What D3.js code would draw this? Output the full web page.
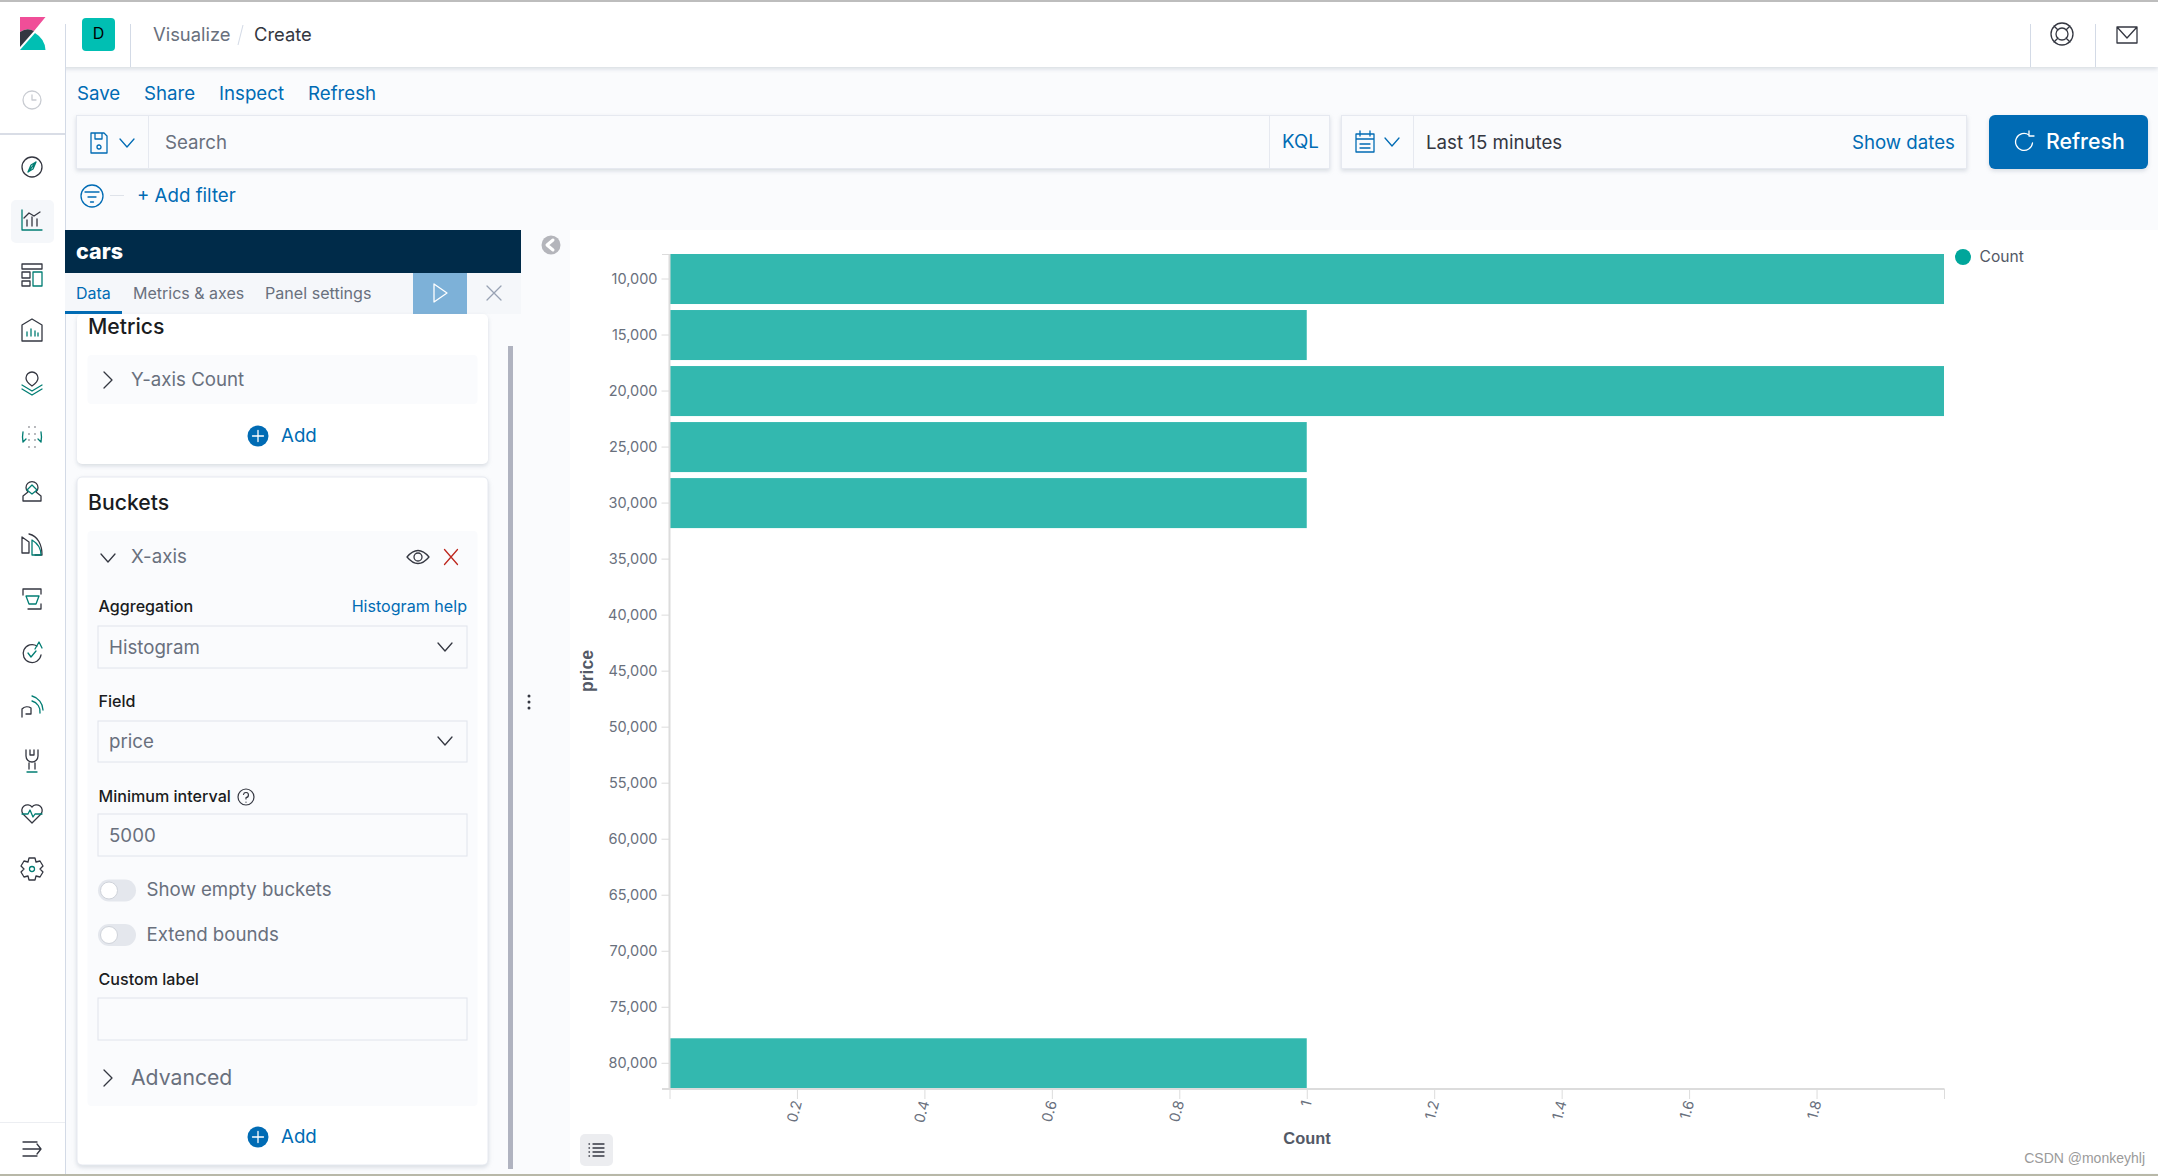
<![CDATA[<html>
<meta charset="utf-8">
<script src="https://d3js.org/d3.v7.min.js"></script>
<style>
body { margin: 0; background: #fff; overflow: hidden; }
svg { display: block; font-family: Inter, sans-serif; }
</style>
<body>
<svg id="page" width="2158" height="1176"></svg>
<script>
// chart data
var prices = [10000, 15000, 20000, 25000, 30000, 35000, 40000, 45000, 50000, 55000, 60000, 65000, 70000, 75000, 80000];
var counts = [2, 1, 2, 1, 1, 0, 0, 0, 0, 0, 0, 0, 0, 0, 1];
var countTicks = [0, 0.2, 0.4, 0.6, 0.8, 1, 1.2, 1.4, 1.6, 1.8, 2];
var countLabels = ["", "0.2", "0.4", "0.6", "0.8", "1", "1.2", "1.4", "1.6", "1.8", ""];
var seriesName = "Count";
var yTitle = "price";

var BLUE = "#006bb4", DARK = "#343741", GREY = "#69707d", LINE = "#d3dae6", PAGE = "#fafbfd", TEAL = "#017d73";
var BODY = 18.7, HEAD = 21.2, SMALL = 16.1;

var svg = d3.select("#page");

var rect = function(x, y, w, h, fill, opt) {
    opt = opt || {};
    return svg.append("rect").attr("x", x).attr("y", y).attr("width", w).attr("height", h)
        .attr("rx", opt.r || 0).attr("fill", fill)
        .attr("stroke", opt.stroke || "none").attr("stroke-width", opt.sw || 1)
        .style("filter", opt.shadow ? "drop-shadow(0 2px 2px rgba(152,162,179,.35))" : null);
};

var text = function(str, x, y, size, fill, weight, anchor) {
    return svg.append("text").attr("x", x).attr("y", y).attr("dy", "0.31em")
        .attr("font-size", size).attr("fill", fill).attr("font-weight", weight || 400)
        .attr("text-anchor", anchor || "start").text(str);
};

// icon: list of [path, colour] drawn around x,y
var icon = function(x, y, parts, sw) {
    var g = svg.append("g").attr("transform", "translate(" + x + "," + y + ")")
        .attr("fill", "none").attr("stroke-width", sw || 1.3).attr("stroke-linecap", "round").attr("stroke-linejoin", "round");
    parts.forEach(function(p) {
        g.append("path").attr("d", p[0]).attr("stroke", p[1]);
    });
    return g;
};

var chevDown = function(x, y, c) { icon(x, y, [["M-7,-4L0,4L7,-4", c || DARK]]); };
var chevRight = function(x, y) { icon(x, y, [["M-4,-8L4,0L-4,8", DARK]]); };

// page backgrounds
rect(0, 0, 2158, 1176, PAGE);
rect(0, 0, 2158, 67, "#fff", {shadow: true});
rect(0, 0, 2158, 2, "#bdbdbd");
rect(0, 67, 65, 1109, "#fff");
rect(65, 67, 1, 1109, LINE);
rect(570, 230, 1588, 943, "#fff");
rect(0, 1174, 2158, 2, "#b8b8a8");

// header
svg.append("path").attr("d", "M20,17H45.5L34,31Q27,27 20,32Z").attr("fill", "#f04e98");
svg.append("path").attr("d", "M20,32Q27,27 34,31L20,47Z").attr("fill", "#343741");
svg.append("path").attr("d", "M20,50L35,33Q45,39 45.5,50Z").attr("fill", "#00bfb3");
rect(65, 24, 1, 43, LINE);
rect(130, 24, 1, 43, LINE);
rect(82, 18, 33, 33, "#00bfb3", {r: 4});
text("D", 98.5, 34.5, 16, "#000", 400, "middle");
text("Visualize", 153, 35, 18.4, GREY);
svg.append("path").attr("d", "M238,45L243,25").attr("stroke", LINE);
text("Create", 254, 35, 18.4, DARK);
rect(2030, 24, 1, 43, LINE);
rect(2095, 24, 1, 43, LINE);
icon(2062, 34, [["M0,-11A11,11 0 1,1 0,11A11,11 0 1,1 0,-11M0,-6A6,6 0 1,1 0,6A6,6 0 1,1 0,-6M-8,-8L-4,-4M8,-8L4,-4M-8,8L-4,4M8,8L4,4", DARK]]);
icon(2127, 35, [["M-10,-8H10V8H-10ZM-10,-8L0,3L10,-8", DARK]]);

// top nav links
var navLabels = ["Save", "Share", "Inspect", "Refresh"];
var navX = [77, 144, 219, 308];
navLabels.forEach(function(d, i) { text(d, navX[i], 94, BODY, BLUE); });

// search bar
rect(76.5, 115.5, 1253, 53, PAGE, {stroke: "#e6e9f0", shadow: true});
rect(148, 116, 1, 52, "#e6e9f0");
rect(1269, 116, 1, 52, "#e6e9f0");
icon(99, 143, [["M-8,-10H5L8,-7V10H-8ZM-4,-10V-4H3V-10M0,4m-2,0a2,2 0 1,0 4,0a2,2 0 1,0 -4,0", BLUE]]);
chevDown(127, 143, BLUE);
text("Search", 165, 143, BODY, GREY);
text("KQL", 1282, 142, BODY, BLUE);

rect(1341.5, 115.5, 625, 53, PAGE, {stroke: "#e6e9f0", shadow: true});
rect(1413, 116, 1, 52, "#e6e9f0");
icon(1365, 142, [["M-9,-8H9V10H-9ZM-9,-3H9M-5,-11V-6M5,-11V-6M-5,2H5M-5,6H5", BLUE]]);
chevDown(1392, 142, BLUE);
text("Last 15 minutes", 1426, 143, BODY, DARK);
text("Show dates", 1955, 143, BODY, BLUE, 400, "end");

rect(1989, 115, 159, 54, BLUE, {r: 6, shadow: true});
icon(2024, 142, [["M5,-7A8.5,8.5 0 1,0 8.5,1M5,-11V-6H10", "#fff"]]);
text("Refresh", 2046, 142, 21.3, "#fff", 500);

// filter row
icon(92, 196, [["M0,-11A11,11 0 1,1 0,11A11,11 0 1,1 0,-11M-7,-4H7M-4,1H4M-1.5,6H1.5", BLUE]]);
rect(110, 195, 14, 1, "#dfe3ea");
text("+ Add filter", 137, 196, BODY, BLUE);

// sidebar
rect(0, 133, 65, 2, "#d9dde6");
rect(11, 200, 43, 43, "#f5f7fa", {r: 5});
rect(0, 1122, 65, 1, "#eceef2");
icon(32, 100, [["M0,-9A9,9 0 1,1 0,9A9,9 0 1,1 0,-9M0,-5V0H4", "#c9ccd2"]]);
var navIconY = [167, 220, 275, 330, 383, 437, 491, 545, 599, 653, 707, 761, 814, 869];
var navIcons = [
    [["M0,-10A10,10 0 1,1 0,10A10,10 0 1,1 0,-10", DARK], ["M4,-5L-4,5M4,-5L1,2L-4,5L-1,-2Z", TEAL]],
    [["M-10,-10V10H10", TEAL], ["M-5,6V0M0,6V-3M5,6V-1", DARK], ["M-8,-2L-3,-7L2,-4L8,-8", DARK]],
    [["M-10,-11H10V-6H-10ZM-10,-3H-2V3H-10ZM-10,6H-2V11H-10Z", DARK], ["M1,-3H10V11H1Z", TEAL]],
    [["M-10,-5L0,-11L10,-5V11H-10Z", DARK], ["M-5,6V2M-1,6V-1M3,6V1M6,6V3", TEAL]],
    [["M0,-11A6,6 0 0,1 6,-5C6,-1 0,3 0,3C0,3 -6,-1 -6,-5A6,6 0 0,1 0,-11", DARK], ["M-10,2L0,8L10,2M-10,6L0,12L10,6", TEAL]],
    [["M-3,-10V-10M3,-10V-10M-3,-3V-3M3,-3V-3M-3,3V3M3,3V3M-3,10V10M3,10V10", DARK], ["M-9,-5Q-10,0 -9,5M-9,5L-6,2M9,-5Q10,0 9,5M9,5L6,2", TEAL]],
    [["M-9,10V5L-4,1A6,6 0 1,1 4,1L9,5V10Z", DARK], ["M0,-6L5,-1L0,3L-5,-1Z", TEAL]],
    [["M-10,-8L-3,-3V8H-10ZM-3,-11C6,-9 10,0 10,10H3", DARK], ["M0,-5L0,10H9C9,3 5,-2 0,-5Z", TEAL]],
    [["M-9,-10H9V-5M-9,-10V-4M-4,10H9V5", DARK], ["M-6,-3H7L4,5H-3Z", TEAL]],
    [["M5,-7A9,9 0 1,0 9,2", DARK], ["M3,-4L7,-11L10,-5M-4,0L-1,4L4,-2", TEAL]],
    [["M-10,10V2A7,7 0 0,1 -1,1V7H-6", DARK], ["M0,-6A11,11 0 0,1 8,6M0,-11A15,15 0 0,1 11,3", TEAL]],
    [["M-6,-11V-5A6,6 0 0,0 6,-5V-11M-2,-11V-6H2V-11M-3,2V8M3,2V8", DARK], ["M-5,11H5", TEAL]],
    [["M0,9L-9,0A5.5,5.5 0 0,1 0,-7A5.5,5.5 0 0,1 9,0Z", DARK], ["M-10,0H-4L-2,-4L1,3L3,0H10", TEAL]],
    [["M-3,-11H3L4,-7L8,-8L11,-3L8,0L11,3L8,8L4,7L3,11H-3L-4,7L-8,8L-11,3L-8,0L-11,-3L-8,-8L-4,-7Z", DARK], ["M0,-2.5A2.5,2.5 0 1,1 0,2.5A2.5,2.5 0 1,1 0,-2.5", TEAL]]
];
navIcons.forEach(function(p, i) { icon(32, navIconY[i], p); });
icon(32, 1149, [["M-9,-7H5M-9,0H9M-9,7H5M5,-5L9,0L5,5", DARK]]);

// editor panel
rect(65, 230, 456, 43, "#002b49");
text("cars", 76, 252, 21.5, "#fff", 800);
rect(65, 273, 456, 41, "#f5f7fa");
text("Data", 76, 294, 16, BLUE);
text("Metrics & axes", 133, 294, 16, GREY);
text("Panel settings", 265, 294, SMALL, GREY);
rect(65, 311, 57, 3, BLUE);
rect(413, 273, 54, 41, "#7db1d8");
icon(440, 293, [["M-6,-9L7,0L-6,9Z", "#fff"]]);
icon(494, 293, [["M-7,-7L7,7M7,-7L-7,7", "#98a2b3"]]);
rect(521, 230, 49, 943, PAGE);
rect(508, 346, 5, 823, "#b0b3c0");

// metrics card
rect(77, 314, 411, 150, "#fff", {r: 5, shadow: true});
text("Metrics", 88, 327, HEAD, "#1a1c21", 500);
rect(87.5, 355, 390, 49, PAGE, {r: 4});
chevRight(108, 380);
text("Y-axis Count", 131, 380, BODY, GREY);

var addBtn = function(y) {
    svg.append("circle").attr("cx", 258).attr("cy", y).attr("r", 10.5).attr("fill", BLUE);
    icon(258, y, [["M-5.5,0H5.5M0,-5.5V5.5", "#fff"]]);
    text("Add", 281, y, BODY, BLUE);
};
addBtn(436);

// buckets card
rect(77, 477, 411, 688, "#fff", {r: 5, shadow: true, stroke: "#e6e9f0"});
text("Buckets", 88, 503, HEAD, "#1a1c21", 500);
rect(87.5, 531, 390, 575, PAGE, {r: 4});
chevDown(108, 558);
text("X-axis", 131, 557, BODY, GREY);
icon(418, 557, [["M-11,0Q0,-13 11,0Q0,13 -11,0ZM0,-4A4,4 0 1,1 0,4A4,4 0 1,1 0,-4", DARK]]);
icon(451, 557, [["M-6.5,-7.5L6.5,7.5M6.5,-7.5L-6.5,7.5", "#bd271e"]]);

text("Aggregation", 98.5, 607, SMALL, "#1a1c21", 500);
text("Histogram help", 467, 607, SMALL, BLUE, 400, "end");
var field = function(y, h, str) {
    rect(98, y, 369, h, PAGE, {stroke: "#e0e4ec"});
    if (str) text(str, 109, y + h / 2 + 1, BODY, GREY);
};
field(626, 42, "Histogram");
chevDown(445, 647);
text("Field", 98.5, 702, SMALL, "#1a1c21", 500);
field(721, 41, "price");
chevDown(445, 741);
text("Minimum interval", 98.5, 797, SMALL, "#1a1c21", 500);
icon(246, 797, [["M0,-8A8,8 0 1,1 0,8A8,8 0 1,1 0,-8M-2.5,-2.5A2.5,2.5 0 1,1 0,0.5V2M0,5V5.2", DARK]], 1.2);
field(814, 42, "5000");

var toggle = function(y, str) {
    rect(98, y - 11, 38, 22, "#e4e7ed", {r: 11});
    svg.append("circle").attr("cx", 109).attr("cy", y).attr("r", 8.5).attr("fill", "#fff").attr("stroke", "#cfd3da");
    text(str, 146.5, y, BODY, GREY);
};
toggle(890.5, "Show empty buckets");
toggle(935, "Extend bounds");
text("Custom label", 98.5, 980, SMALL, "#1a1c21", 500);
field(998, 42, "");
chevRight(108, 1078);
text("Advanced", 131, 1078, HEAD, GREY);
addBtn(1137);

// splitter and collapse
[-6, 0, 6].forEach(function(d) {
    svg.append("circle").attr("cx", 529).attr("cy", 702 + d).attr("r", 1.5).attr("fill", DARK);
});
svg.append("circle").attr("cx", 551).attr("cy", 245).attr("r", 9.5).attr("fill", "#b4b5bb");
icon(550, 245, [["M3,-5L-3,0L3,5", "#fff"]], 3);

// chart
var y = d3.scaleBand().domain(prices).range([254, 1088.3]).paddingInner(6 / 56).paddingOuter(0);
var x = d3.scaleLinear().domain([0, 2]).range([669.5, 1944]);

svg.append("g").selectAll("rect")
    .data(prices.filter(function(d, i) { return counts[i] > 0; }))
    .enter().append("rect")
        .attr("x", x(0))
        .attr("y", function(d) { return y(d); })
        .attr("width", function(d) { return x(counts[prices.indexOf(d)]) - x(0); })
        .attr("height", y.bandwidth())
        .attr("fill", "#00a69b")
        .attr("fill-opacity", 0.8);

var yAxis = svg.append("g").attr("transform", "translate(669.5,0)")
    .call(d3.axisLeft(y).tickSize(8).tickPadding(4).tickFormat(d3.format(",")));
var xAxis = svg.append("g").attr("transform", "translate(0,1089)")
    .call(d3.axisBottom(x).tickValues(countTicks).tickSize(10).tickPadding(4)
        .tickFormat(function(d, i) { return countLabels[i]; }));

[yAxis, xAxis].forEach(function(a) {
    a.select(".domain").remove();
    a.selectAll("line").attr("stroke", "#dcdcdc").attr("stroke-width", 1);
    a.selectAll("text").attr("fill", "#69707d").attr("font-family", "Inter").attr("font-size", 14.5);
});
xAxis.selectAll("text")
    .attr("text-anchor", "end")
    .attr("transform", "translate(-7,1) rotate(-75)")
    .attr("dy", "0.3em")
    .attr("dx", "-0.6em")
    .attr("y", 10);

rect(668.5, 254, 2, 835, "#dcdcdc");
rect(662, 254, 8, 1, "#dcdcdc");
rect(662, 1088, 1282.5, 2, "#dcdcdc");

text(yTitle, 0, 0, 17.5, "#535966", 700, "middle").attr("font-family", "Liberation Sans")
    .attr("transform", "translate(588,671) rotate(-90)");
text(seriesName, 1307, 1139, 16.4, "#535966", 700, "middle").attr("font-family", "Liberation Sans");

// legend
svg.append("circle").attr("cx", 1963).attr("cy", 257).attr("r", 8).attr("fill", "#00a69b");
text(seriesName, 1979.5, 257, 15.6, "#535966");

// legend toggle
rect(580, 1134, 33, 32, "#ecedf0", {r: 5});
icon(597, 1150, [["M-4,-6H7M-4,-2H7M-4,2H7M-4,6H7", DARK], ["M-8,-6H-7.5M-8,-2H-7.5M-8,2H-7.5M-8,6H-7.5", DARK]]);

text("CSDN @monkeyhlj", 2145, 1159, 14, "#9a9a9a", 400, "end").attr("font-family", "Liberation Sans");
</script>
</body>
</html>
]]>
